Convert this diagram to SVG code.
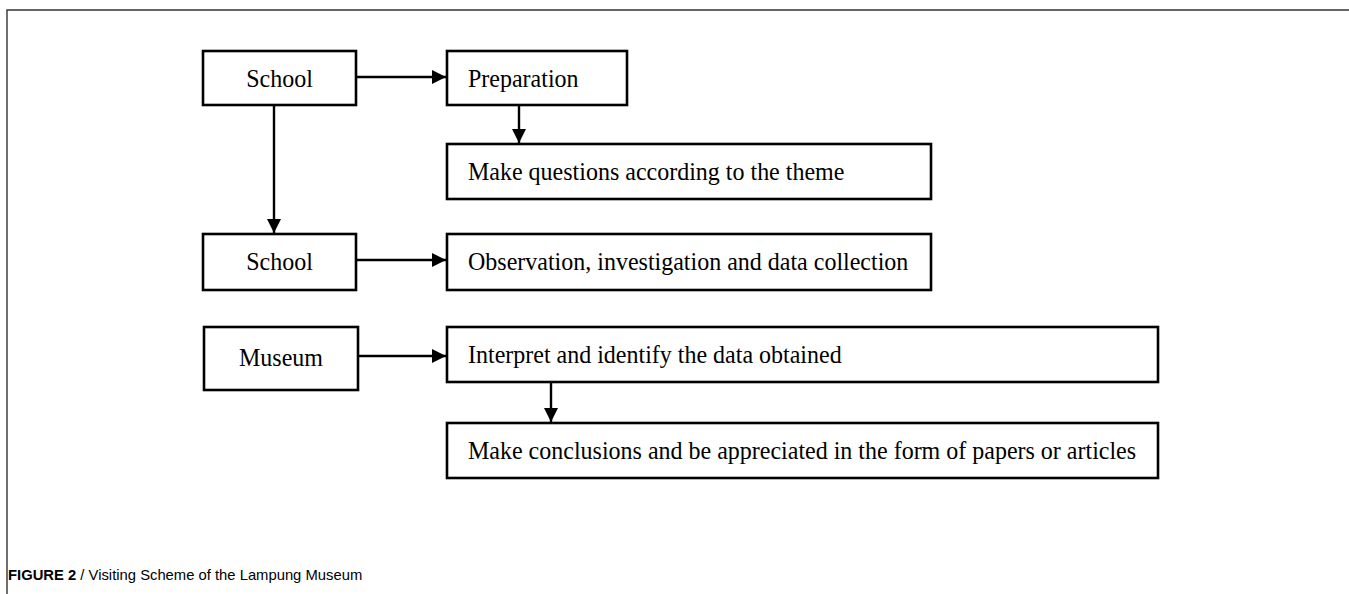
<svg xmlns="http://www.w3.org/2000/svg" width="1349" height="594" viewBox="0 0 1349 594">
<defs>
<style>
.box{fill:#fff;stroke:#000;stroke-width:2.6}
.lbl{font-family:"Liberation Serif","Times New Roman",serif;font-size:24px;fill:#000}
.c{text-anchor:middle}
.con{stroke:#000;stroke-width:2.4;fill:none}
.frame{stroke:#333;stroke-width:1.4;fill:none}
.cap{font-family:"Liberation Sans",Arial,sans-serif;font-size:14.8px;fill:#000}
</style>
<marker id="ah" viewBox="0 0 10 10" refX="10" refY="5" markerWidth="6" markerHeight="6" markerUnits="strokeWidth" orient="auto">
<path d="M0,0 L10,5 L0,10 Z" fill="#000"/>
</marker>
</defs>
<rect width="1349" height="594" fill="#fff"/>
<path class="frame" d="M7,594 V10 H1349"/>
<g id="school1"><rect class="box" x="203" y="51" width="153" height="54"/><text class="lbl c" transform="translate(279.5,86.5) scale(1,1.06)">School</text></g>
<g id="preparation"><rect class="box" x="447" y="51" width="180" height="54"/><text class="lbl" transform="translate(468,86.5) scale(1,1.06)">Preparation</text></g>
<g id="questions"><rect class="box" x="447" y="144" width="484" height="55"/><text class="lbl" transform="translate(468,180) scale(1,1.06)">Make questions according to the theme</text></g>
<g id="school2"><rect class="box" x="203" y="234" width="153" height="56"/><text class="lbl c" transform="translate(279.5,270) scale(1,1.06)">School</text></g>
<g id="observation"><rect class="box" x="447" y="234" width="484" height="56"/><text class="lbl" transform="translate(468,270) scale(1,1.06)">Observation, investigation and data collection</text></g>
<g id="museum"><rect class="box" x="204" y="327" width="154" height="63"/><text class="lbl c" transform="translate(281,366) scale(1,1.06)">Museum</text></g>
<g id="interpret"><rect class="box" x="447" y="327" width="711" height="55"/><text class="lbl" transform="translate(468,363) scale(1,1.06)">Interpret and identify the data obtained</text></g>
<g id="conclusions"><rect class="box" x="447" y="423" width="711" height="55"/><text class="lbl" transform="translate(468,459) scale(1,1.06)">Make conclusions and be appreciated in the form of papers or articles</text></g>
<g id="connectors">
<line class="con" x1="356" y1="77" x2="446" y2="77" marker-end="url(#ah)"/>
<line class="con" x1="519" y1="105" x2="519" y2="143" marker-end="url(#ah)"/>
<line class="con" x1="274" y1="105" x2="274" y2="233" marker-end="url(#ah)"/>
<line class="con" x1="356" y1="260" x2="446" y2="260" marker-end="url(#ah)"/>
<line class="con" x1="358" y1="356" x2="446" y2="356" marker-end="url(#ah)"/>
<line class="con" x1="551" y1="382" x2="551" y2="422" marker-end="url(#ah)"/>
</g>
<text class="cap" x="8" y="580"><tspan font-weight="bold">FIGURE 2</tspan> / Visiting Scheme of the Lampung Museum</text>
</svg>
